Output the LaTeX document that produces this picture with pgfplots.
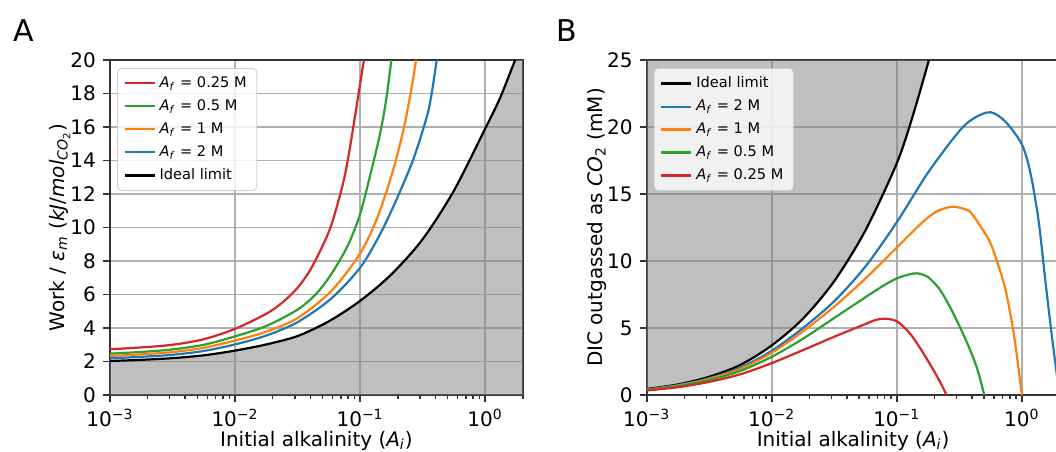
\documentclass[border=0pt]{standalone}
\usepackage{fontspec}
\setmainfont{DejaVu Sans}
\usepackage{pgfplots}
\usepackage{pgfplotstable}
\usepgfplotslibrary{fillbetween}
\pgfplotsset{compat=1.18}

\definecolor{tabblue}{HTML}{1F77B4}
\definecolor{taborange}{HTML}{FF7F0E}
\definecolor{tabgreen}{HTML}{2CA02C}
\definecolor{tabred}{HTML}{D62728}
\definecolor{gridgray}{HTML}{B0B0B0}
\definecolor{fillgray}{HTML}{808080}

\newcommand{\Af}{\textit{A}\textsubscript{\textit{f}}}
\tikzset{crv/.style={smooth, tension=0.5, line width=1.1pt}}

% ideal limit, panel A (work)
\pgfplotstableread{
x y
0.001 2.03
0.001778 2.10
0.003162 2.20
0.005623 2.37
0.01 2.65
0.01778 3.02
0.03162 3.52
0.05623 4.40
0.1 5.62
0.1778 7.2
0.3162 9.3
0.5623 12.2
1 15.9
1.318 17.75
1.738 20
2 21
}\idealA

% ideal limit, panel B (DIC)
\pgfplotstableread{
x y
0.001 0.45
0.001778 0.79
0.003162 1.36
0.005623 2.25
0.01 3.7
0.01778 5.7
0.03162 8.5
0.05623 12.3
0.1 17.3
0.1349 20.9
0.1807 25
}\idealB

\pgfplotsset{
  every axis/.append style={
    scale only axis, width=206.4pt, height=167.5pt,
    xmin=1e-3, xmax=2, ymin=0,
    xtick={0.001,0.01,0.1,1},
    xticklabels={10\textsuperscript{−3},10\textsuperscript{−2},10\textsuperscript{−1},10\textsuperscript{0}},
    minor xtick={0.002,0.003,0.004,0.005,0.006,0.007,0.008,0.009,
                 0.02,0.03,0.04,0.05,0.06,0.07,0.08,0.09,
                 0.2,0.3,0.4,0.5,0.6,0.7,0.8,0.9,2},
    grid=major, major grid style={gridgray, line width=0.8pt},
    axis line style={black!80, line width=0.8pt},
    tick style={black!80, line width=0.8pt},
    tick align=outside, xtick pos=left, ytick pos=left,
    major tick length=3.5pt, minor tick length=2pt,
    tick label style={font=\fontsize{10}{12}\selectfont},
    label style={font=\fontsize{10}{12}\selectfont},
    /pgf/number format/assume math mode=true,
    xlabel={Initial alkalinity (\textit{A}\textsubscript{\textit{i}})},
    xlabel style={at={(axis description cs:0.5,0)}, anchor=base, yshift=-25.5pt},
    legend cell align=left,
    legend style={at={(0.017,0.976)}, anchor=north west,
      draw=black!20, rounded corners=2pt, fill=white, fill opacity=0.8,
      text opacity=1, font=\fontsize{7.3}{8.8}\selectfont,
      inner xsep=3pt, inner ysep=2pt, row sep=0.6pt},
  },
}

\begin{document}
\begin{tikzpicture}

% panel A
\begin{axis}[xmode=log, at={(55pt,28pt)}, anchor=south west,
  ymax=20, ytick={0,2,...,20},
  legend image code/.code={\draw[#1, sharp plot] (0pt,0pt) -- (15pt,0pt);},
  ylabel style={at={(axis description cs:-0.111,0.5)}, anchor=base},
  ylabel={Work / \textit{ε}\textsubscript{\textit{m}} (\textit{kJ}/\textit{mol}\textsubscript{\textit{CO}\textsubscript{2}})}]
\addplot[draw=none, crv, name path=limA, forget plot] table {\idealA};
\addplot[draw=none, name path=baseA, forget plot] coordinates {(0.001,0) (2,0)};
\addplot[fill=fillgray, fill opacity=0.5, forget plot] fill between[of=limA and baseA];
\addplot[tabred, crv] coordinates {
  (0.001,2.73) (0.001778,2.84) (0.003162,3.0) (0.005623,3.33) (0.01,3.95)
  (0.01778,4.85) (0.02371,5.5) (0.03162,6.4) (0.03981,7.45) (0.05012,8.9)
  (0.05861,10.1) (0.06714,11.6) (0.07499,13.0) (0.08128,14.4) (0.08913,16.2)
  (0.09772,18.1) (0.1072,20)
};
\addplot[tabgreen, crv] coordinates {
  (0.001,2.47) (0.001778,2.57) (0.003162,2.72) (0.005623,3.0) (0.01,3.5)
  (0.01778,4.12) (0.03162,5.1) (0.04467,6.05) (0.05861,7.2) (0.07943,8.9)
  (0.1,10.8) (0.1239,13.5) (0.1445,15.6) (0.1614,17.6) (0.1778,20)
};
\addplot[taborange, crv] coordinates {
  (0.001,2.33) (0.001778,2.43) (0.003162,2.56) (0.005623,2.82) (0.01,3.25)
  (0.01778,3.78) (0.03162,4.59) (0.05861,6.2) (0.1,8.45) (0.1384,10.66)
  (0.1849,13.5) (0.2223,15.85) (0.2512,17.85) (0.2805,20)
};
\addplot[tabblue, crv] coordinates {
  (0.001,2.19) (0.001778,2.28) (0.003162,2.4) (0.005623,2.63) (0.01,3.02)
  (0.01778,3.55) (0.03162,4.35) (0.05861,5.75) (0.1,7.6) (0.1445,9.6)
  (0.1963,11.7) (0.2673,14.1) (0.3412,16.6) (0.3715,17.9) (0.4102,20)
};
\addplot[black, crv] table {\idealA};
\legend{\Af{} = 0.25 M, \Af{} = 0.5 M, \Af{} = 1 M, \Af{} = 2 M, Ideal limit}
\end{axis}

% panel B
\begin{axis}[xmode=log, at={(323.35pt,28pt)}, anchor=south west,
  ymax=25, ytick={0,5,...,25},
  legend image code/.code={\draw[#1, sharp plot] (0pt,0pt) -- (15pt,0pt);},
  ylabel style={at={(axis description cs:-0.108,0.5)}, anchor=base},
  ylabel={DIC outgassed as \textit{CO}\textsubscript{2} (mM)}]
\addplot[draw=none, crv, name path=limB, forget plot] table {\idealB};
\addplot[draw=none, name path=topB, forget plot] coordinates {(0.001,25) (0.1807,25)};
\addplot[fill=fillgray, fill opacity=0.5, forget plot] fill between[of=limB and topB];
\addplot[black, crv] table {\idealB};
\addplot[tabblue, crv] coordinates {
  (0.001,0.42) (0.001778,0.74) (0.003162,1.25) (0.005623,2.05) (0.01,3.3)
  (0.01778,5.0) (0.03162,7.0) (0.05623,9.6) (0.1,12.9) (0.1778,16.6)
  (0.3162,19.7) (0.4217,20.7) (0.5623,21.1) (0.7379,20.4) (1,18.7)
  (1.175,16.5) (1.361,13.0) (1.538,8.6) (1.738,4.4) (2,0)
};
\addplot[taborange, crv] coordinates {
  (0.001,0.4) (0.001778,0.7) (0.003162,1.2) (0.005623,1.95) (0.01,3.15)
  (0.01778,4.75) (0.03162,6.6) (0.05623,8.7) (0.1,11.0) (0.1585,12.85)
  (0.2089,13.7) (0.2773,14.05) (0.3548,13.85) (0.3999,13.5) (0.5433,11.6)
  (0.631,10.0) (0.7379,7.9) (0.861,4.6) (1,0)
};
\addplot[tabgreen, crv] coordinates {
  (0.001,0.38) (0.001778,0.66) (0.003162,1.12) (0.005623,1.8) (0.01,2.85)
  (0.01778,4.2) (0.03162,5.75) (0.05623,7.3) (0.07943,8.2) (0.1,8.7)
  (0.1259,9.0) (0.1459,9.08) (0.1778,8.8) (0.2173,7.96) (0.2512,7.0)
  (0.2951,5.75) (0.3548,4.15) (0.3999,3.0) (0.4467,1.75) (0.5,0)
};
\addplot[tabred, crv] coordinates {
  (0.001,0.34) (0.001778,0.58) (0.003162,0.98) (0.005623,1.55) (0.01,2.38)
  (0.01778,3.35) (0.03162,4.35) (0.05623,5.3) (0.06683,5.58) (0.07943,5.7)
  (0.1,5.5) (0.1259,4.65) (0.1585,3.3) (0.1995,1.75) (0.2239,0.9) (0.25,0)
};
\legend{Ideal limit, \Af{} = 2 M, \Af{} = 1 M, \Af{} = 0.5 M, \Af{} = 0.25 M}
\end{axis}

\node[anchor=base west, font=\fontsize{15}{18}\selectfont, inner sep=0pt] at (6.5pt,204.5pt) {A};
\node[anchor=base west, font=\fontsize{15}{18}\selectfont, inner sep=0pt] at (278pt,204.5pt) {B};

\pgfresetboundingbox
\path[use as bounding box] (0,0) rectangle (528pt,225.5pt);
\end{tikzpicture}
\end{document}
